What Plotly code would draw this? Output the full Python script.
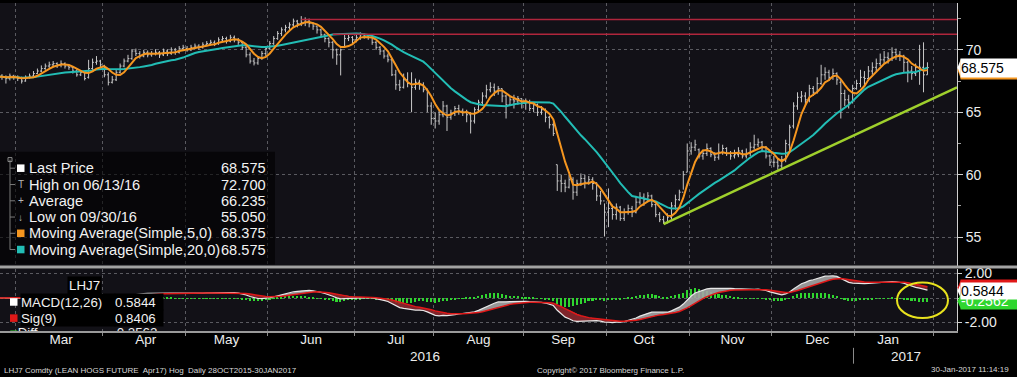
import numpy as np
import pandas as pd
import plotly.graph_objects as go

# ---------------- data (LHJ7 daily bars) ----------------
feb_open = [67.7, 67.8, 67.9, 67.8, 67.7, 67.9]
feb_high = [68.0, 68.1, 68.05, 67.95, 68.1, 68.0]
feb_low = [67.5, 67.6, 67.6, 67.3, 67.55, 67.6]
feb_close = [67.8, 67.9, 67.85, 67.7, 67.9, 67.8]

mar_open = [67.8, 67.7, 67.5, 67.8, 67.9, 68.1, 68.3, 68.5, 68.7, 68.8, 68.9, 68.8, 68.9, 68.7, 68.6, 68.3, 68.0, 68.2, 67.8, 68.5, 69.0, 69.1]
mar_high = [67.95, 67.85, 67.95, 68.1, 68.3, 68.5, 68.75, 68.9, 69.05, 69.1, 69.0, 69.15, 69.0, 68.8, 68.7, 68.45, 68.35, 68.3, 69.2, 69.3, 69.5, 69.2]
mar_low = [67.5, 67.3, 67.45, 67.7, 67.85, 68.05, 68.2, 68.4, 68.55, 68.6, 68.55, 68.6, 68.5, 68.4, 68.1, 67.85, 67.9, 67.55, 67.7, 68.4, 68.8, 68.6]
mar_close = [67.7, 67.5, 67.8, 67.9, 68.1, 68.3, 68.5, 68.7, 68.8, 68.9, 68.8, 68.9, 68.7, 68.6, 68.3, 68.0, 68.2, 67.7, 68.5, 69.0, 69.1, 68.8]

apr_open = [68.7, 68.0, 67.4, 67.6, 68.2, 68.7, 69.1, 69.3, 69.9, 69.7, 69.5, 69.8, 69.6, 69.7, 69.8, 69.6, 69.9, 69.7, 70.0, 69.8, 70.1]
apr_high = [68.8, 68.2, 67.9, 68.4, 68.9, 69.3, 69.6, 70.05, 70.1, 69.9, 70.0, 69.95, 69.9, 70.05, 69.9, 70.1, 70.05, 70.2, 70.15, 70.3, 70.4]
apr_low = [67.8, 67.15, 67.3, 67.5, 68.1, 68.6, 69.0, 69.2, 69.5, 69.3, 69.4, 69.4, 69.45, 69.55, 69.35, 69.5, 69.5, 69.6, 69.6, 69.7, 69.9]
apr_close = [68.0, 67.4, 67.6, 68.2, 68.7, 69.1, 69.3, 69.9, 69.7, 69.5, 69.8, 69.6, 69.7, 69.8, 69.6, 69.9, 69.7, 70.0, 69.8, 70.1, 70.2]

may_open = [70.1, 70.0, 70.2, 70.3, 70.2, 70.4, 70.5, 70.6, 70.5, 70.8, 70.9, 70.7, 71.0, 70.8, 70.6, 70.2, 69.6, 69.1, 68.95, 69.3, 69.7]
may_high = [70.3, 70.4, 70.5, 70.45, 70.6, 70.7, 70.8, 70.75, 71.0, 71.1, 71.05, 71.2, 71.15, 70.95, 70.7, 70.3, 69.8, 69.35, 69.5, 69.9, 70.3]
may_low = [69.85, 69.9, 70.05, 70.0, 70.1, 70.3, 70.35, 70.3, 70.4, 70.65, 70.5, 70.6, 70.6, 70.4, 70.0, 69.4, 68.9, 68.75, 68.8, 69.2, 69.5]
may_close = [70.0, 70.2, 70.3, 70.2, 70.4, 70.5, 70.6, 70.5, 70.8, 70.9, 70.7, 71.0, 70.8, 70.6, 70.2, 69.6, 69.1, 68.95, 69.3, 69.7, 70.1]

jun_open = [70.1, 70.5, 70.9, 71.3, 71.6, 71.8, 72.0, 72.3, 72.1, 72.2, 72.4, 72.1, 71.9, 71.6, 71.2, 70.9, 70.6, 70.0, 69.6, 70.2, 70.9, 71.0]
jun_high = [70.7, 71.1, 71.5, 71.8, 72.0, 72.2, 72.5, 72.4, 72.7, 72.6, 72.5, 72.2, 71.9, 71.7, 71.3, 71.0, 70.7, 70.1, 70.1, 71.2, 71.2, 71.1]
jun_low = [70.0, 70.4, 70.8, 71.1, 71.4, 71.6, 71.8, 71.8, 71.9, 71.9, 71.8, 71.6, 71.3, 71.0, 70.6, 70.2, 69.3, 68.8, 67.95, 70.2, 70.7, 70.5]
jun_close = [70.5, 70.9, 71.3, 71.6, 71.8, 72.0, 72.3, 72.1, 72.2, 72.4, 72.1, 71.9, 71.6, 71.2, 70.9, 70.6, 70.0, 69.6, 70.0, 70.9, 71.0, 70.8]

jul_open = [70.8, 71.0, 71.2, 71.1, 71.0, 70.6, 70.2, 69.9, 69.5, 69.2, 68.0, 67.2, 67.0, 67.6, 67.3, 67.0, 67.4, 67.2, 66.8, 65.5]
jul_high = [71.2, 71.4, 71.3, 71.2, 71.0, 70.7, 70.3, 70.0, 69.7, 69.3, 68.4, 67.6, 68.1, 68.2, 68.2, 67.7, 67.6, 67.4, 66.9, 65.8]
jul_low = [70.6, 70.8, 70.9, 70.8, 70.4, 70.0, 69.6, 69.3, 69.0, 67.9, 66.8, 66.7, 66.9, 67.0, 65.0, 66.8, 66.8, 66.6, 65.0, 64.0]
jul_close = [71.0, 71.2, 71.1, 71.0, 70.6, 70.2, 69.9, 69.5, 69.2, 68.0, 67.2, 67.0, 67.6, 67.3, 67.0, 67.4, 67.2, 66.8, 65.5, 64.5]

aug_open = [64.5, 64.3, 64.8, 65.5, 64.6, 64.9, 65.3, 65.1, 65.0, 64.8, 64.3, 65.2, 65.8, 66.3, 66.8, 67.0, 66.7, 66.9, 66.3, 65.6, 66.0, 65.9, 66.1]
aug_high = [65.0, 65.1, 65.9, 65.6, 65.2, 65.5, 65.6, 65.3, 65.2, 65.0, 65.4, 66.0, 66.6, 67.2, 67.4, 67.3, 67.1, 66.9, 66.4, 66.3, 66.4, 66.3, 66.1]
aug_low = [63.7, 64.0, 64.6, 63.5, 64.4, 64.7, 64.8, 64.7, 64.2, 63.3, 64.1, 65.0, 65.6, 66.1, 66.6, 66.3, 66.4, 65.8, 64.5, 65.5, 65.3, 65.6, 65.3]
aug_close = [64.3, 64.8, 65.5, 64.6, 64.9, 65.3, 65.1, 65.0, 64.8, 64.3, 65.2, 65.8, 66.3, 66.8, 67.0, 66.7, 66.9, 66.3, 65.6, 66.0, 65.9, 66.1, 65.7]

sep_open = [65.7, 65.8, 65.3, 65.6, 65.0, 65.2, 64.6, 64.0, 60.8, 59.5, 59.3, 59.0, 59.6, 58.6, 59.3, 59.7, 59.4, 59.6, 59.3, 58.3, 57.9]
sep_high = [66.1, 66.0, 65.8, 65.7, 65.5, 65.3, 64.7, 64.2, 60.8, 60.0, 59.6, 60.0, 59.8, 59.6, 60.1, 60.0, 59.9, 59.8, 59.4, 58.7, 57.7]
sep_low = [65.2, 65.1, 65.0, 64.7, 64.8, 64.2, 63.7, 63.1, 58.7, 58.6, 58.6, 58.9, 58.0, 58.3, 59.1, 58.9, 59.2, 58.8, 57.9, 57.6, 55.05]
sep_close = [65.8, 65.3, 65.6, 65.0, 65.2, 64.6, 64.0, 63.3, 59.5, 59.3, 59.0, 59.6, 58.6, 59.3, 59.7, 59.4, 59.6, 59.3, 58.3, 57.9, 57.0]

oct_open = [57.0, 57.3, 56.8, 57.4, 56.5, 57.0, 57.3, 57.0, 57.8, 58.2, 58.0, 58.3, 57.6, 56.8, 56.4, 56.2, 56.6, 57.5, 58.0, 58.6, 60.2]
oct_high = [58.9, 57.6, 57.7, 57.5, 57.3, 57.6, 57.5, 58.3, 58.6, 58.5, 58.6, 58.4, 57.7, 57.0, 56.7, 56.9, 57.8, 58.4, 58.8, 60.3, 62.5]
oct_low = [55.8, 56.4, 56.4, 56.3, 56.3, 56.8, 56.6, 56.9, 57.6, 57.5, 57.8, 57.4, 56.6, 56.2, 56.05, 56.1, 56.4, 57.2, 57.9, 58.8, 60.2]
oct_close = [57.3, 56.8, 57.4, 56.5, 57.0, 57.3, 57.0, 57.8, 58.2, 58.0, 58.3, 57.6, 56.8, 56.4, 56.2, 56.6, 57.5, 58.0, 58.6, 60.0, 61.9]

nov_open = [61.9, 62.2, 62.0, 61.5, 61.7, 62.1, 61.6, 61.4, 61.8, 62.1, 61.7, 61.5, 61.6, 61.9, 61.5, 61.7, 62.2, 62.4, 62.6, 62.2, 61.5]
nov_high = [62.6, 62.8, 62.1, 62.0, 62.5, 62.2, 61.8, 62.5, 62.4, 62.2, 61.9, 62.0, 62.2, 62.0, 62.1, 62.6, 63.2, 62.9, 62.7, 62.3, 61.6]
nov_low = [61.6, 61.9, 61.3, 61.2, 61.5, 61.4, 61.1, 61.2, 61.6, 61.5, 61.2, 61.3, 61.4, 61.3, 61.3, 61.5, 62.0, 62.2, 61.9, 61.3, 60.7]
nov_close = [62.2, 62.4, 61.5, 61.7, 62.1, 61.6, 61.4, 61.8, 62.1, 61.7, 61.5, 61.6, 61.9, 61.5, 61.7, 62.2, 62.4, 62.6, 62.2, 61.5, 61.0]

dec_open = [61.0, 61.0, 60.7, 61.2, 62.4, 63.9, 65.5, 66.2, 66.3, 66.0, 66.9, 66.6, 67.3, 68.0, 68.2, 67.8, 68.1, 67.4, 66.5, 66.0, 65.8]
dec_high = [61.5, 61.3, 61.5, 62.8, 64.0, 65.8, 66.6, 66.7, 66.6, 67.2, 67.1, 67.8, 68.8, 68.6, 68.4, 68.5, 68.2, 67.6, 66.8, 66.4, 67.2]
dec_low = [60.6, 60.4, 60.5, 61.0, 61.85, 63.7, 65.2, 65.8, 65.6, 65.8, 66.3, 66.5, 67.2, 67.6, 67.5, 67.6, 67.2, 64.5, 65.5, 65.3, 65.7]
dec_close = [61.0, 60.7, 61.2, 62.5, 63.8, 65.5, 66.2, 66.3, 66.0, 66.9, 66.6, 67.3, 68.0, 68.2, 67.8, 68.1, 67.6, 66.5, 66.0, 65.8, 66.9]

jan_open = [66.9, 67.3, 67.8, 67.7, 68.3, 68.6, 68.9, 69.2, 69.4, 69.3, 69.8, 69.6, 69.5, 69.0, 68.3, 68.1, 68.6, 68.6, 68.0]
jan_high = [67.6, 68.4, 68.3, 68.7, 69.0, 69.3, 69.7, 69.9, 69.8, 70.2, 70.1, 69.9, 69.6, 69.1, 68.7, 68.9, 70.4, 70.6, 69.0]
jan_low = [66.8, 67.0, 67.1, 67.5, 68.0, 68.3, 68.7, 68.9, 68.9, 69.1, 69.2, 69.1, 68.2, 67.4, 67.6, 67.9, 67.2, 66.6, 68.0]
jan_close = [67.3, 67.8, 67.7, 68.3, 68.6, 68.9, 69.2, 69.4, 69.3, 69.8, 69.6, 69.5, 69.0, 68.3, 68.1, 68.6, 68.6, 68.0, 68.575]

exchange_holidays = ["2016-03-25", "2016-05-30", "2016-07-04", "2016-09-05",
                     "2016-11-24", "2016-12-26", "2017-01-02", "2017-01-16"]

# user-drawn lines
red_line_starts = ["2016-06-13", "2016-06-23"]
red_line_levels = [72.43, 71.24]
trend_dates = ["2016-10-21 12:00", "2017-02-09"]
trend_levels = [56.05, 67.0]

# legend texts
legend_labels = ["Last Price", "High on 06/13/16", "Average", "Low on 09/30/16",
                 "Moving Average(Simple,5,0)", "Moving Average(Simple,20,0)"]
legend_values = ["68.575", "72.700", "66.235", "55.050", "68.375", "68.575"]
macd_labels = ["MACD(12,26)", "Sig(9)", "Diff"]
macd_values = ["0.5844", "0.8406", "-0.2562"]
months_order = ["feb", "mar", "apr", "may", "jun", "jul", "aug", "sep", "oct", "nov", "dec", "jan"]

# ---------------- assemble ----------------
g = globals()
opens = sum((g[m + "_open"] for m in months_order), [])
highs = sum((g[m + "_high"] for m in months_order), [])
lows = sum((g[m + "_low"] for m in months_order), [])
closes = pd.Series(sum((g[m + "_close"] for m in months_order), []))

dates = pd.bdate_range("2016-02-22", "2017-01-30")
dates = dates[~dates.isin(pd.to_datetime(exchange_holidays))]
assert len(dates) == len(closes) == len(opens) == len(highs) == len(lows)
xs = dates + pd.Timedelta(hours=12)

x_start, x_end = "2016-02-24", "2017-02-09"

ma5 = closes.rolling(5, min_periods=1).mean()
ma20 = closes.rolling(20, min_periods=1).mean()
ema12 = closes.ewm(span=12, adjust=False).mean()
ema26 = closes.ewm(span=26, adjust=False).mean()
macd = ema12 - ema26
sig = macd.ewm(span=9, adjust=False).mean()
diff = macd - sig
upper = np.maximum(macd, sig)
lower = np.minimum(macd, sig)

# ---------------- figure ----------------
FONT = "Liberation Sans, Arial, sans-serif"
PW, PH = 957, 331
def fx(p):
    return p / PW
def fy(p):
    return (PH - p) / PH

GRID = "#5a5a60"
TXT = "#ececec"
ORANGE = "#f5961f"
CYAN = "#22bdb5"

fig = go.Figure()
fig.add_trace(go.Ohlc(x=xs, open=opens, high=highs, low=lows, close=closes,
                      increasing=dict(line=dict(color="#c9c9c9", width=1)),
                      decreasing=dict(line=dict(color="#c9c9c9", width=1)),
                      tickwidth=0.35, xaxis="x", yaxis="y", hoverinfo="skip"))
fig.add_trace(go.Scatter(x=xs, y=ma20, mode="lines", line=dict(color=CYAN, width=2), xaxis="x", yaxis="y"))
fig.add_trace(go.Scatter(x=xs, y=ma5, mode="lines", line=dict(color=ORANGE, width=2), xaxis="x", yaxis="y"))
for s, lv in zip(red_line_starts, red_line_levels):
    fig.add_trace(go.Scatter(x=[pd.Timestamp(s) + pd.Timedelta(hours=12), x_end], y=[lv, lv], mode="lines",
                             line=dict(color="#b0263c", width=1.5), xaxis="x", yaxis="y"))
fig.add_trace(go.Scatter(x=trend_dates, y=trend_levels, mode="lines", line=dict(color="#9fd02c", width=2.5),
                         xaxis="x", yaxis="y"))

# MACD panel
fig.add_trace(go.Scatter(x=xs, y=sig, mode="lines", line=dict(width=0), xaxis="x2", yaxis="y2"))
fig.add_trace(go.Scatter(x=xs, y=upper, mode="lines", line=dict(width=0), fill="tonexty",
                         fillcolor="rgba(165,165,165,0.9)", xaxis="x2", yaxis="y2"))
fig.add_trace(go.Scatter(x=xs, y=sig, mode="lines", line=dict(width=0), xaxis="x2", yaxis="y2"))
fig.add_trace(go.Scatter(x=xs, y=lower, mode="lines", line=dict(width=0), fill="tonexty",
                         fillcolor="rgba(140,40,45,0.9)", xaxis="x2", yaxis="y2"))
fig.add_trace(go.Bar(x=xs, y=diff, marker=dict(color="#2fd62f", line=dict(width=0)), width=0.4 * 86400000,
                     xaxis="x2", yaxis="y2"))
fig.add_trace(go.Scatter(x=xs, y=macd, mode="lines", line=dict(color="#e8e8e8", width=1.2), xaxis="x2", yaxis="y2"))
fig.add_trace(go.Scatter(x=xs, y=sig, mode="lines", line=dict(color="#e01818", width=1.5), xaxis="x2", yaxis="y2"))
# Diff legend row (clipped by the panel bottom, as in the original)
fig.add_trace(go.Scatter(x=[xs[5]], y=[-2.93], mode="markers", marker=dict(symbol="square", size=7, color="#2fd62f"),
                         xaxis="x2", yaxis="y2", cliponaxis=True))
fig.add_trace(go.Scatter(x=[xs[6], xs[30]], y=[-2.93, -2.93], mode="text", text=[macd_labels[2], macd_values[2]],
                         textposition="middle right", textfont=dict(family=FONT, size=13.3, color="#f0f0f0"),
                         xaxis="x2", yaxis="y2", cliponaxis=True))

breaks = [dict(bounds=["sat", "mon"]), dict(values=exchange_holidays)]
common_x = dict(range=[x_start, x_end], rangebreaks=breaks, dtick="M1", tick0="2016-03-01",
                showgrid=True, gridcolor=GRID, griddash="dot", gridwidth=1, zeroline=False)

fig.update_layout(
    width=1017, height=377, margin=dict(l=0, r=60, t=0, b=46),
    paper_bgcolor="#000000", plot_bgcolor="#121117", showlegend=False,
    font=dict(family=FONT, color=TXT), bargap=0,
    xaxis=dict(**common_x, domain=[0, 1], anchor="y", showticklabels=False, ticks="",
               rangeslider=dict(visible=False)),
    xaxis2=dict(**common_x, domain=[0, 1], anchor="y2", matches="x", ticklabelmode="period",
                tickformat="%b", ticks="outside", ticklen=3, tickcolor="#8a8a8a", ticklabelstandoff=-8,
                tickfont=dict(size=13.5, color=TXT), showline=True, linecolor="#9a9a9a", linewidth=2),
    yaxis=dict(domain=[fy(265), 1], side="right", range=[52.72, 73.75], tickvals=[55, 60, 65, 70],
               ticks="outside", ticklen=5, tickcolor="#d0d0d0", tickfont=dict(size=14, color=TXT),
               showgrid=True, gridcolor=GRID, griddash="dot", zeroline=False,
               showline=True, linecolor="#d0d0d0", linewidth=1,
               minor=dict(tickvals=[57.5, 62.5, 67.5, 72.5], ticks="outside", ticklen=3,
                          tickcolor="#a0a0a0", showgrid=False)),
    yaxis2=dict(domain=[0, fy(268)], side="right", range=[-2.69, 2.40], tickvals=[2, 0, -2],
                ticktext=["2.00", "", "-2.00"], ticks="outside", ticklen=4, tickcolor="#d0d0d0",
                tickfont=dict(size=14, color=TXT), showgrid=True, gridcolor=GRID, griddash="dot",
                zeroline=False, showline=True, linecolor="#d0d0d0", linewidth=1),
)

shapes = []
ann = []

# panel separator
shapes.append(dict(type="line", xref="paper", yref="paper", x0=0, x1=1017 / PW, y0=fy(266.5), y1=fy(266.5),
                   line=dict(color="#a3a3a3", width=3)))

# main legend box
shapes.append(dict(type="rect", xref="paper", yref="paper", x0=0, x1=fx(275), y0=fy(264), y1=fy(150),
                   fillcolor="rgba(0,0,0,0.6)", line=dict(width=0)))
row_y = [166.7, 183.2, 199.6, 216.0, 232.4, 248.8]
shapes.append(dict(type="line", xref="paper", yref="paper", x0=fx(10), x1=fx(10), y0=fy(158), y1=fy(249),
                   line=dict(color="#7a7a7a", width=1)))
shapes.append(dict(type="rect", xref="paper", yref="paper", x0=fx(8), x1=fx(12), y0=fy(160), y1=fy(156),
                   line=dict(color="#8a8a8a", width=1)))
for ry in row_y:
    shapes.append(dict(type="line", xref="paper", yref="paper", x0=fx(10), x1=fx(15), y0=fy(ry), y1=fy(ry),
                       line=dict(color="#7a7a7a", width=1)))
square_colors = {0: "#ffffff", 4: ORANGE, 5: CYAN}
for i, col in square_colors.items():
    shapes.append(dict(type="rect", xref="paper", yref="paper", x0=fx(17), x1=fx(24.5),
                       y0=fy(row_y[i] + 3.8), y1=fy(row_y[i] - 3.8), fillcolor=col, line=dict(width=0)))
glyphs = {1: "T", 2: "+", 3: "↓"}
for i, gl in glyphs.items():
    ann.append(dict(text=gl, xref="paper", yref="paper", x=fx(20.5), y=fy(row_y[i]), xanchor="center",
                    yanchor="middle", showarrow=False, font=dict(size=10, color="#b8b8b8")))
for lab, val, ry in zip(legend_labels, legend_values, row_y):
    ann.append(dict(text=lab, xref="paper", yref="paper", x=fx(26.5), y=fy(ry), xanchor="left",
                    yanchor="middle", showarrow=False, font=dict(size=14.6, color="#f2f2f2")))
    ann.append(dict(text=val, xref="paper", yref="paper", x=fx(268), y=fy(ry), xanchor="right",
                    yanchor="middle", showarrow=False, font=dict(size=14.6, color="#f2f2f2")))

# MACD legend
ann.append(dict(text="LHJ7", xref="paper", yref="paper", x=fx(84), y=fy(285), xanchor="center", yanchor="middle",
                showarrow=False, font=dict(size=13.3, color="#f0f0f0"), bgcolor="#000000"))
macd_rows = [301.7, 318.0]
macd_sq = ["#ffffff", "#e01818"]
for lab, val, ry, col in zip(macd_labels[:2], macd_values[:2], macd_rows, macd_sq):
    shapes.append(dict(type="rect", xref="paper", yref="paper", x0=fx(10), x1=fx(17.5),
                       y0=fy(ry + 3.8), y1=fy(ry - 3.8), fillcolor=col, line=dict(width=0)))
    ann.append(dict(text=lab, xref="paper", yref="paper", x=fx(20), y=fy(ry), xanchor="left", yanchor="middle",
                    showarrow=False, width=94, height=16, align="left", bgcolor="#000000", borderpad=0,
                    font=dict(size=13.3, color="#f0f0f0")))
    ann.append(dict(text=val, xref="paper", yref="paper", x=fx(114), y=fy(ry), xanchor="left", yanchor="middle",
                    showarrow=False, width=48, height=16, align="left", bgcolor="#000000", borderpad=0,
                    font=dict(size=13.3, color="#f0f0f0")))

# right-hand value tags
def tag(yref, yval, unit_px, col, txt, txtcol, h):
    half = h / 2 / unit_px
    shapes.append(dict(type="path", xref="paper", yref=yref,
                       path=f"M {fx(957.5)},{yval} L {fx(961)},{yval + half} L {fx(961)},{yval - half} Z",
                       fillcolor=col, line=dict(width=0)))
    ann.append(dict(text=txt, xref="paper", yref=yref, x=fx(960.5), y=yval, xanchor="left", yanchor="middle",
                    showarrow=False, width=56, height=h, align="left", bgcolor=col, borderpad=0,
                    font=dict(size=14, color=txtcol)))

tag("y", float(ma5.iloc[-1]), 12.6, ORANGE, " ", "#000000", 18)
tag("y", float(closes.iloc[-1]), 12.6, "#ffffff", legend_values[0], "#000000", 18)
tag("y2", float(macd_values[1]), 12.38, "#e01818", " ", "#ffffff", 16)
tag("y2", float(macd_values[2]), 12.38, "#2fd62f", macd_values[2], "#ffffff", 16)
tag("y2", float(macd_values[0]), 12.38, "#ffffff", macd_values[0], "#000000", 16)

# yellow highlight ellipse
shapes.append(dict(type="circle", xref="paper", yref="paper", x0=fx(897), x1=fx(948), y0=fy(318), y1=fy(282),
                   line=dict(color="#e8e21e", width=2)))

# year separator and labels
shapes.append(dict(type="line", xref="paper", yref="paper", x0=fx(853.5), x1=fx(853.5), y0=fy(348), y1=fy(364),
                   line=dict(color="#8a8a8a", width=1)))
for yr, d in [("2016", "2016-07-28"), ("2017", "2017-01-23")]:
    ann.append(dict(text=yr, xref="x2", yref="paper", x=d, y=fy(357), xanchor="center", yanchor="middle",
                    showarrow=False, font=dict(size=13.5, color=TXT)))

# footer
FOOT = dict(size=8, color="#d8d8d8")
ann.append(dict(text="LHJ7 Comdty (LEAN HOGS FUTURE  Apr17) Hog  Daily 28OCT2015-30JAN2017", xref="paper",
                yref="paper", x=fx(2), y=fy(371), xanchor="left", yanchor="middle", showarrow=False, font=FOOT))
ann.append(dict(text="Copyright© 2017 Bloomberg Finance L.P.", xref="paper", yref="paper", x=fx(535),
                y=fy(371), xanchor="left", yanchor="middle", showarrow=False, font=FOOT))
ann.append(dict(text="30-Jan-2017 11:14:19", xref="paper", yref="paper", x=fx(1011), y=fy(370),
                xanchor="right", yanchor="middle", showarrow=False, font=FOOT))

fig.update_layout(shapes=shapes, annotations=ann)
fig.write_html("out.html", config={"displayModeBar": False},
               post_script="document.body.style.margin='0px';document.body.style.background='#000';")
